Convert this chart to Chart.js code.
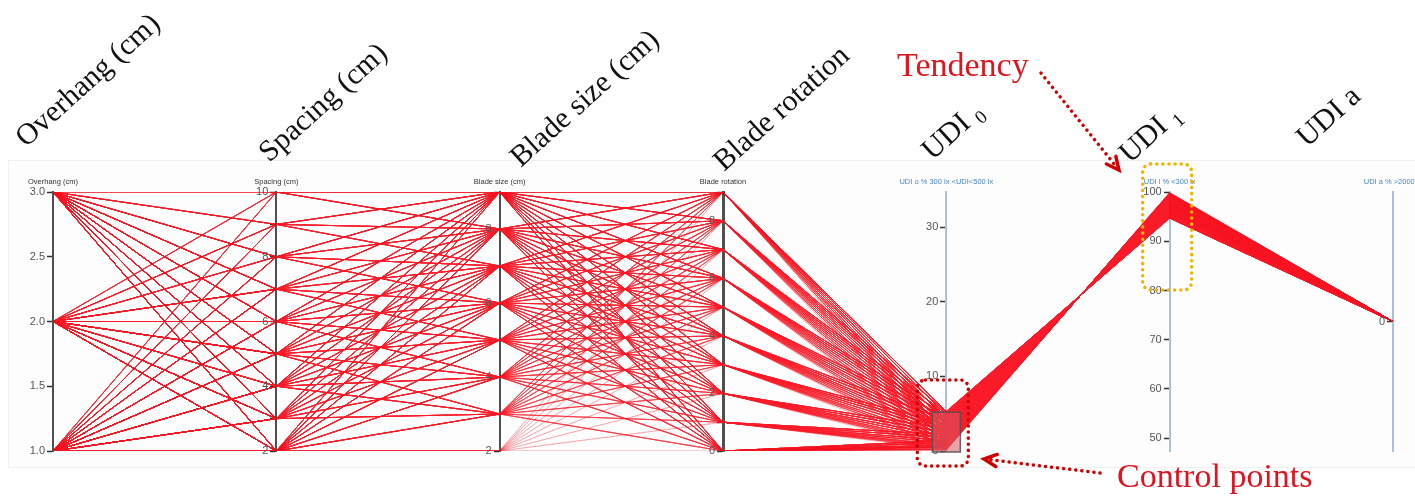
<!DOCTYPE html>
<html>
<head>
<meta charset="utf-8">
<title>Parallel coordinates</title>
<script src="https://cdn.jsdelivr.net/npm/chart.js@4.4.1/dist/chart.umd.min.js"></script>
<style>
  html, body { margin: 0; padding: 0; background: #fff; }
  #wrap { width: 1415px; height: 500px; }
</style>
</head>
<body>
<div id="wrap"><canvas id="pcChart" width="1415" height="500"></canvas></div>
<script>
'use strict';

/**
 * design parameters, one line per combination
 */

const overhangs = [1, 2, 3];
const spacings = [2, 3, 4, 5, 6, 7, 8, 9, 10];
const bladeSizes = [2, 3, 4, 5, 6, 7, 8, 9];
const rotations = [0, 1, 2, 3, 4, 5, 6, 7, 8, 9];

// blade sizes reached from each spacing
const bladesBySpacing = [
  [2, 3, 4, 5, 6, 7, 8, 9],
  [3, 4, 5, 6, 7, 8, 9],
  [3, 4, 5, 6, 7, 8, 9],
  [3, 4, 5, 6, 7, 8, 9],
  [4, 5, 6, 7, 8, 9],
  [5, 6, 7, 8, 9],
  [6, 7, 8, 9],
  [7, 8, 9],
  [8, 9]
];

// UDI 0 (%) per rotation (rows) and blade size (columns 2..9)
const udi0Values = [
  [0.1, 0.2, 0.3, 0.5, 0.6, 0.8, 1.1, 1.4],
  [0.2, 0.4, 0.6, 0.8, 1.1, 1.4, 1.8, 2.2],
  [0.3, 0.6, 0.9, 1.2, 1.6, 2.0, 2.5, 3.0],
  [0.4, 0.8, 1.2, 1.6, 2.1, 2.6, 3.1, 3.6],
  [0.5, 0.9, 1.4, 1.9, 2.4, 2.9, 3.5, 4.1],
  [0.6, 1.1, 1.6, 2.2, 2.7, 3.3, 3.9, 4.5],
  [0.7, 1.2, 1.8, 2.4, 3.0, 3.6, 4.2, 4.8],
  [0.8, 1.4, 2.0, 2.6, 3.2, 3.8, 4.4, 5.0],
  [0.9, 1.5, 2.1, 2.8, 3.4, 4.0, 4.6, 5.2],
  [1.0, 1.6, 2.3, 2.9, 3.6, 4.2, 4.8, 5.3]
];

// UDI 1 (%) per rotation and blade size
const udi1Values = [
  [99.9, 99.8, 99.7, 99.5, 99.4, 99.2, 98.9, 98.6],
  [99.8, 99.6, 99.4, 99.2, 98.9, 98.6, 98.2, 97.8],
  [99.7, 99.4, 99.1, 98.8, 98.4, 98.0, 97.5, 97.0],
  [99.6, 99.2, 98.8, 98.4, 97.9, 97.4, 96.9, 96.4],
  [99.5, 99.1, 98.6, 98.1, 97.6, 97.1, 96.5, 95.9],
  [99.4, 98.9, 98.4, 97.8, 97.3, 96.7, 96.1, 95.5],
  [99.3, 98.8, 98.2, 97.6, 97.0, 96.4, 95.8, 95.2],
  [99.2, 98.6, 98.0, 97.4, 96.8, 96.2, 95.6, 95.0],
  [99.1, 98.5, 97.9, 97.2, 96.6, 96.0, 95.4, 94.8],
  [99.0, 98.4, 97.7, 97.1, 96.4, 95.8, 95.2, 94.7]
];

// UDI a: every design reads 0
const udiAValue = 0;

/**
 * axes
 */

const axisHeaders = ["Overhang (cm)", "Spacing (cm)", "Blade size (cm)", "Blade rotation",
  "UDI o % 300 lx <UDI<500 lx", "UDI l % <300 lx", "UDI a % >2000 lx"];
const axisTitles = ["Overhang (cm)", "Spacing (cm)", "Blade size (cm)", "Blade rotation", "UDI", "UDI", "UDI a"];
const axisTitleSubs = ["", "", "", "", "0", "1", ""];
const axisMin = [1, 2, 2, 0, 0, 47.4, -1];
const axisMax = [3, 10, 9, 9, 34.7, 100, 1];
const axisTicks = [
  [1, 1.5, 2, 2.5, 3],
  [2, 3, 4, 5, 6, 7, 8, 9, 10],
  [2, 3, 4, 5, 6, 7, 8, 9],
  [0, 1, 2, 3, 4, 5, 6, 7, 8, 9],
  [0, 10, 20, 30],
  [50, 60, 70, 80, 90, 100],
  [0]
];
const axisTickLabels = [
  ["1.0", "1.5", "2.0", "2.5", "3.0"],
  ["2", "", "4", "", "6", "", "8", "", "10"],
  ["2", "", "4", "", "6", "", "8", ""],
  ["0", "", "2", "", "4", "", "6", "", "8", ""],
  ["0", "10", "20", "30"],
  ["50", "60", "70", "80", "90", "100"],
  ["0"]
];

// where each big rotated title starts, relative to its axis
const titleOffsets = [[-27, 148], [-7, 163], [21, 168], [1, 172], [-14, 161], [-40, 164], [-86, 148]];

const lineColor = "rgba(250, 30, 40, 0.15)";
const brushRange = [0, 5.2];

const norm = function (i, v) {
  return (v - axisMin[i]) / (axisMax[i] - axisMin[i]);
}

const datasets = [];
overhangs.forEach(function (oh) {
  spacings.forEach(function (sp, si) {
    bladesBySpacing[si].forEach(function (bs) {
      const b = bladeSizes.indexOf(bs);
      rotations.forEach(function (rot) {
        const row = [oh, sp, bs, rot, udi0Values[rot][b], udi1Values[rot][b], udiAValue];
        datasets.push({
          data: row.map(function (v, i) { return { x: i, y: norm(i, v) }; }),
          borderColor: lineColor,
          borderWidth: 1,
          pointRadius: 0,
          tension: 0
        });
      });
    });
  });
});

const scales = {
  x: { type: "linear", min: 0, max: 6, display: false },
  y: { type: "linear", min: 0, max: 1, display: false }
};

axisHeaders.forEach(function (h, i) {
  const isUdi = i >= 4;
  scales["axis" + i] = {
    type: "linear",
    axis: "y",
    position: { x: i },
    min: axisMin[i],
    max: axisMax[i],
    z: 1,
    afterBuildTicks: function (scale) {
      scale.ticks = axisTicks[i].map(function (v) { return { value: v }; });
    },
    ticks: { display: false, autoSkip: false },
    grid: { drawOnChartArea: false, drawTicks: true, tickLength: 5, tickWidth: 1.5, color: "#333" },
    border: { display: true, color: isUdi ? "#a9c1da" : "#505050", width: i === 3 ? 3 : 2 }
  };
});

/**
 * overlay: tick labels, headers, rotated titles, brush and annotations
 */

const dottedPath = function (ctx, color, width, gap) {
  ctx.strokeStyle = color;
  ctx.lineWidth = width;
  ctx.lineCap = "round";
  ctx.setLineDash([0.1, gap]);
  ctx.stroke();
  ctx.setLineDash([]);
}

const roundRect = function (ctx, x, y, w, h, r) {
  ctx.beginPath();
  ctx.moveTo(x + r, y);
  ctx.arcTo(x + w, y, x + w, y + h, r);
  ctx.arcTo(x + w, y + h, x, y + h, r);
  ctx.arcTo(x, y + h, x, y, r);
  ctx.arcTo(x, y, x + w, y, r);
  ctx.closePath();
}

const dottedArrow = function (ctx, x1, y1, x2, y2, color) {
  ctx.beginPath();
  ctx.moveTo(x1, y1);
  ctx.lineTo(x2, y2);
  dottedPath(ctx, color, 3.5, 6);
  const a = Math.atan2(y2 - y1, x2 - x1);
  ctx.beginPath();
  ctx.moveTo(x2 - 14 * Math.cos(a - 0.45), y2 - 14 * Math.sin(a - 0.45));
  ctx.lineTo(x2, y2);
  ctx.lineTo(x2 - 14 * Math.cos(a + 0.45), y2 - 14 * Math.sin(a + 0.45));
  ctx.strokeStyle = color;
  ctx.lineWidth = 3.5;
  ctx.lineJoin = "miter";
  ctx.stroke();
}

const overlayPlugin = {
  id: "overlay",
  beforeDraw: function (chart) {
    const ctx = chart.ctx;
    ctx.save();
    ctx.fillStyle = "#fdfdfd";
    ctx.fillRect(8, 160, 1407, 307);
    ctx.strokeStyle = "#f0f0f0";
    ctx.strokeRect(8.5, 160.5, 1407, 307);
    ctx.restore();
  },
  afterDraw: function (chart) {
    const ctx = chart.ctx;
    const area = chart.chartArea;
    const xs = chart.scales.x;
    ctx.save();

    // tick labels, left of every axis
    ctx.font = "11px 'Liberation Sans', Arial, sans-serif";
    ctx.fillStyle = "#555";
    ctx.textAlign = "right";
    ctx.textBaseline = "middle";
    axisTicks.forEach(function (list, i) {
      const sc = chart.scales["axis" + i];
      const ax = xs.getPixelForValue(i);
      list.forEach(function (v, k) {
        ctx.fillText(axisTickLabels[i][k], ax - 8, sc.getPixelForValue(v));
      });
    });

    // small headers above each axis
    ctx.textAlign = "center";
    ctx.textBaseline = "alphabetic";
    ctx.font = "7.5px 'Liberation Sans', Arial, sans-serif";
    axisHeaders.forEach(function (h, i) {
      ctx.fillStyle = i >= 4 ? "#4a86c0" : "#333";
      ctx.fillText(h, xs.getPixelForValue(i), area.top - 8);
    });

    // brush on UDI 0
    const u0 = chart.scales.axis4;
    const bx = xs.getPixelForValue(4);
    const bTop = u0.getPixelForValue(brushRange[1]);
    const bBot = u0.getPixelForValue(brushRange[0]) + 1;
    ctx.fillStyle = "rgba(215, 90, 100, 0.55)";
    ctx.fillRect(bx - 14, bTop, 28, bBot - bTop);
    ctx.strokeStyle = "rgba(80, 80, 80, 0.85)";
    ctx.lineWidth = 1.5;
    ctx.strokeRect(bx - 14, bTop, 28, bBot - bTop);

    // big rotated titles
    ctx.fillStyle = "#111";
    ctx.textAlign = "left";
    axisTitles.forEach(function (t, i) {
      ctx.save();
      ctx.translate(xs.getPixelForValue(i) + titleOffsets[i][0], titleOffsets[i][1]);
      ctx.rotate(-42 * Math.PI / 180);
      ctx.font = "30px 'Liberation Serif', 'Times New Roman', serif";
      ctx.fillText(t, 0, 0);
      if (axisTitleSubs[i]) {
        const w = ctx.measureText(t + " ").width;
        ctx.font = "19px 'Liberation Serif', 'Times New Roman', serif";
        ctx.fillText(axisTitleSubs[i], w, 6);
      }
      ctx.restore();
    });

    // annotations
    ctx.font = "34px 'Liberation Serif', 'Times New Roman', serif";
    ctx.fillStyle = "#e0141e";
    ctx.fillText("Tendency", 897, 76);
    ctx.fillText("Control points", 1117, 487);

    roundRect(ctx, bx - 29, 380, 51, 86, 8);
    dottedPath(ctx, "#d10000", 3.5, 6);

    const u1x = xs.getPixelForValue(5);
    roundRect(ctx, u1x - 27, 164, 49, 126, 8);
    dottedPath(ctx, "#f3b400", 3.5, 6);

    dottedArrow(ctx, 1041, 73, 1119, 170, "#d10000");
    dottedArrow(ctx, 1100, 473, 984, 459, "#d10000");

    ctx.restore();
  }
};

const ctx = document.getElementById("pcChart").getContext("2d");
const pcChart = new Chart(ctx, {
  type: "line",
  data: { datasets: datasets },
  options: {
    responsive: false,
    animation: false,
    events: [],
    parsing: false,
    normalized: true,
    layout: { padding: { left: 53, right: 22, top: 192, bottom: 49 } },
    scales: scales,
    plugins: {
      legend: { display: false },
      tooltip: { enabled: false }
    }
  },
  plugins: [overlayPlugin]
});
</script>
</body>
</html>
